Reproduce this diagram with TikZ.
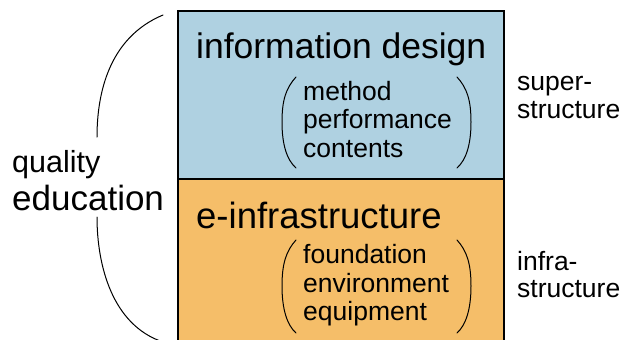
\documentclass[tikz,border=0pt]{standalone}
\usepackage{fontspec}
\setmainfont{Liberation Sans}
\definecolor{superblue}{HTML}{AFD1E1}
\definecolor{infraorange}{HTML}{F5BE69}
\begin{document}
\begin{tikzpicture}[x=1pt,y=-1pt,
  title/.style={anchor=base west,inner sep=0pt,font=\fontsize{35.5}{40}\selectfont},
  item/.style={anchor=base west,inner sep=0pt,font=\fontsize{26.5}{30}\selectfont},
  side/.style={anchor=base west,inner sep=0pt,font=\fontsize{26.5}{30}\selectfont},
  curve/.style={line width=1pt,line cap=round}]
\useasboundingbox (0,0) rectangle (627,340);
\clip (0,0) rectangle (627,340);

% layered block: upper and lower structure
\draw[fill=superblue,line width=1.2pt] (178,11) rectangle (504,179);
\draw[fill=infraorange,line width=1.2pt] (178,179) rectangle (504,350);

% upper block
\node[title] (design) at (196,58) {information design};
\node[item] (method) at (303,100) {method};
\node[item] (perf) at (303,128.5) {performance};
\node[item] (contents) at (303,157) {contents};
\draw[curve] (296,77) .. controls (286,88) and (282,100) .. (282,122)
  .. controls (282,145) and (287,160) .. (296,168);
\draw[curve] (457,77) .. controls (467,88) and (471,100) .. (471,122)
  .. controls (471,145) and (466,160) .. (457,168);

% lower block
\node[title,font=\fontsize{36.5}{40}\selectfont] (infra) at (196,228) {e-infrastructure};
\node[item] (found) at (303,263) {foundation};
\node[item] (env) at (303,292) {environment};
\node[item] (equip) at (303,320) {equipment};
\draw[curve] (296,240) .. controls (286,251) and (282,264) .. (282,286)
  .. controls (282,309) and (287,325) .. (296,333);
\draw[curve] (457,240) .. controls (467,251) and (471,264) .. (471,286)
  .. controls (471,309) and (466,325) .. (457,333);

% side labels
\node[side] (super1) at (517,90) {super-};
\node[side] (super2) at (517,118) {structure};
\node[side] (infra1) at (517,270) {infra-};
\node[side] (infra2) at (517,297) {structure};

% left brace around both blocks
\node[anchor=base west,inner sep=0pt,font=\fontsize{30.5}{34}\selectfont] (quality) at (12,172) {quality};
\node[anchor=base west,inner sep=0pt,font=\fontsize{35}{40}\selectfont] (education) at (12,210) {education};
\draw[curve] (163,15) .. controls (108,38) and (97,95) .. (97,137);
\draw[curve] (97,217) .. controls (97,265) and (112,325) .. (163,342);
\end{tikzpicture}
\end{document}
